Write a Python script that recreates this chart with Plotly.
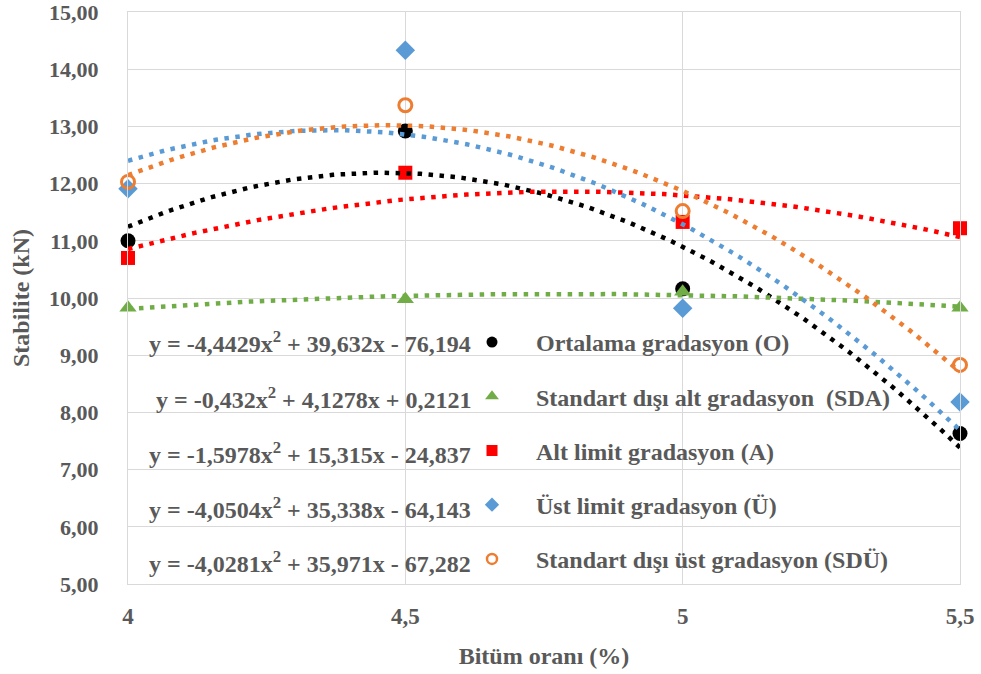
import numpy as np
import plotly.graph_objects as go

# Bitumen content (%) and Marshall stability (kN) per gradation
bitum = [4.0, 4.5, 5.0, 5.5]
series_names = [
    "Ortalama gradasyon (O)",
    "Standart dışı alt gradasyon  (SDA)",
    "Alt limit gradasyon (A)",
    "Üst limit gradasyon (Ü)",
    "Standart dışı üst gradasyon (SDÜ)",
]
stab_O = [11.00, 12.92, 10.16, 7.63]
stab_SDA = [9.83, 9.98, 10.11, 9.83]
stab_A = [10.70, 12.19, 11.33, 11.22]
stab_U = [11.91, 14.33, 9.82, 8.18]
stab_SDU = [12.03, 13.37, 11.52, 8.83]
equations = [
    "y = -4,4429x<sup>2</sup> + 39,632x - 76,194",
    "y = -0,432x<sup>2</sup> + 4,1278x + 0,2121",
    "y = -1,5978x<sup>2</sup> + 15,315x - 24,837",
    "y = -4,0504x<sup>2</sup> + 35,338x - 64,143",
    "y = -4,0281x<sup>2</sup> + 35,971x - 67,282",
]
y_ticks = list(range(5, 16))
x_ticks = [4, 4.5, 5, 5.5]

all_values = [stab_O, stab_SDA, stab_A, stab_U, stab_SDU]
colors = ["#000000", "#70AD47", "#FF0000", "#5B9BD5", "#ED7D31"]
symbols = ["circle", "triangle-up", "square", "diamond", "circle-open"]
sizes = [15, 15, 14, 15, 13]
legend_sizes = [11, 12, 11, 11, 10]

FONT = "Liberation Serif"
GREY = "#595959"

fig = go.Figure()

# data points
for name, vals, col, sym, sz in zip(series_names, all_values, colors, symbols, sizes):
    fig.add_trace(go.Scatter(
        x=bitum, y=vals, mode="markers", showlegend=False, cliponaxis=False,
        marker=dict(color=col, symbol=sym, size=sz,
                    line=dict(width=3 if sym == "circle-open" else 0, color=col)),
    ))

# second-order polynomial trendlines fitted to each series
xs = np.linspace(min(bitum), max(bitum), 200)
for vals, col in zip(all_values, colors):
    coef = np.polyfit(bitum, vals, 2)
    fig.add_trace(go.Scatter(
        x=xs, y=np.polyval(coef, xs), mode="lines", showlegend=False,
        hoverinfo="skip", cliponaxis=False,
        line=dict(color=col, width=4.5, dash="4.5px,6.5px"),
    ))

# legend entries
for i, (name, col, sym, sz) in enumerate(zip(series_names, colors, symbols, legend_sizes)):
    fig.add_trace(go.Scatter(
        x=[None], y=[None], mode="markers", name="\u00a0\u00a0\u00a0\u00a0" + name,
        legendgroup=f"g{i}",
        marker=dict(color=col, symbol=sym, size=sz,
                    line=dict(width=2.5 if sym == "circle-open" else 0, color=col)),
    ))

# trendline equations next to legend rows
row_px = [342, 398, 453, 508, 562]
plot_top, plot_h = 12, 572
for eq, py in zip(equations, row_px):
    fig.add_annotation(
        text=eq, xref="paper", yref="paper", x=(473 - 128) / 832,
        y=1 - (py - plot_top) / plot_h,
        xanchor="right", yanchor="middle", showarrow=False,
        font=dict(family=FONT, size=24, color=GREY, weight="bold"),
    )

fig.update_layout(
    width=981, height=674,
    margin=dict(l=128, r=21, t=12, b=90, autoexpand=False),
    paper_bgcolor="white", plot_bgcolor="white",
    separators=",.",
    showlegend=True,
    legend=dict(
        x=(472 - 128) / 832, xanchor="left",
        y=1 - (320 - plot_top) / plot_h, yanchor="top",
        bgcolor="rgba(0,0,0,0)", tracegroupgap=20,
        font=dict(family=FONT, size=24, color=GREY, weight="bold"),
    ),
    xaxis=dict(
        range=[4, 5.5], tickmode="array", tickvals=x_ticks, automargin=False,
        showgrid=True, gridcolor="#D9D9D9", gridwidth=1,
        showline=True, linecolor="#D9D9D9", linewidth=1, mirror=True,
        zeroline=False, ticks="outside", ticklen=11, tickcolor="rgba(0,0,0,0)",
        ticklabeloverflow="allow",
        tickfont=dict(family=FONT, size=23, color=GREY, weight="bold"),
        title=dict(text="Bitüm oranı (%)", standoff=19,
                   font=dict(family=FONT, size=24, color=GREY, weight="bold")),
    ),
    yaxis=dict(
        range=[5, 15], tickmode="array", tickvals=y_ticks, tickformat=".2f",
        automargin=False,
        showgrid=True, gridcolor="#D9D9D9", gridwidth=1,
        showline=True, linecolor="#D9D9D9", linewidth=1, mirror=True,
        zeroline=False, ticks="outside", ticklen=24, tickcolor="rgba(0,0,0,0)",
        ticklabeloverflow="allow",
        tickfont=dict(family=FONT, size=22, color=GREY, weight="bold"),
        title=dict(text="Stabilite (kN)", standoff=12,
                   font=dict(family=FONT, size=24, color=GREY, weight="bold")),
    ),
)

fig.write_html("out.html")
